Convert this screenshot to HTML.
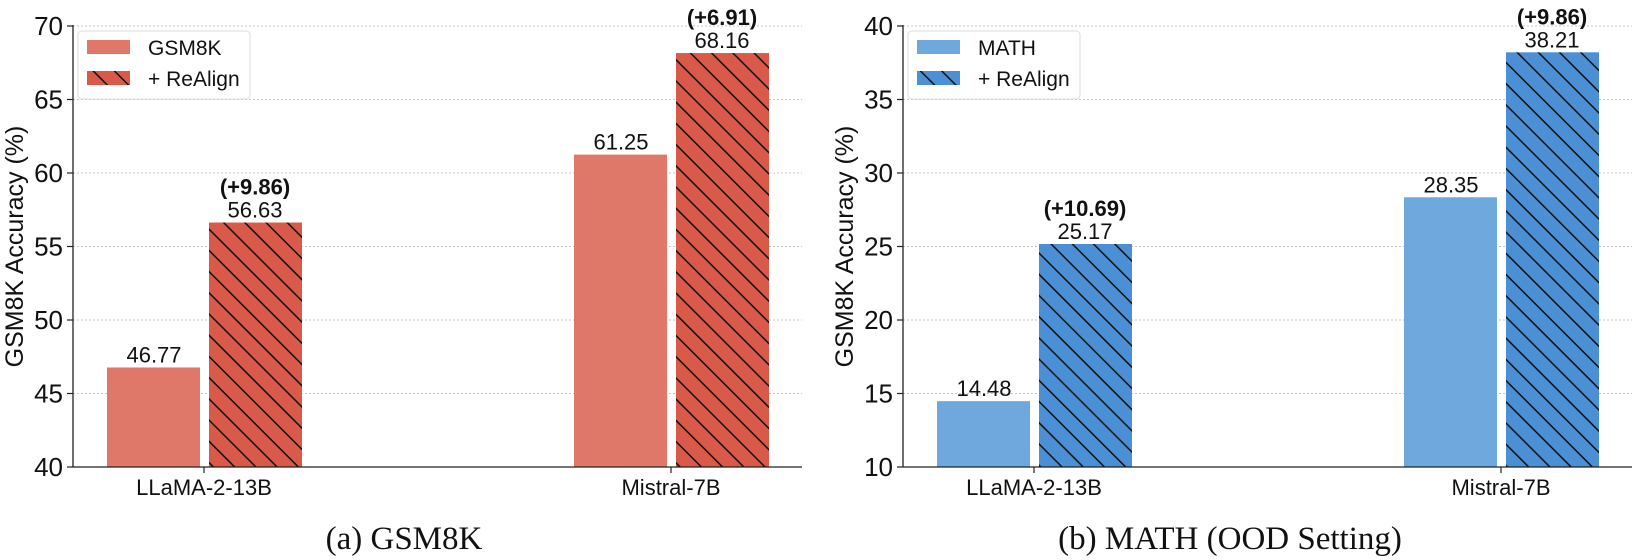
<!DOCTYPE html>
<html><head><meta charset="utf-8"><style>
html,body{margin:0;padding:0;background:#fff;}
svg{display:block;font-family:"Liberation Sans",Arial,sans-serif;}
</style></head><body>
<svg id="chart" width="1636" height="560" viewBox="0 0 1636 560" xmlns="http://www.w3.org/2000/svg">
<defs>
<pattern id="hatchR" patternUnits="userSpaceOnUse" width="15" height="15" patternTransform="rotate(-45)">
<rect width="15" height="15" fill="#d95a48"/><line x1="0" y1="0" x2="0" y2="15" stroke="#111" stroke-width="3"/></pattern>
<pattern id="hatchB" patternUnits="userSpaceOnUse" width="15" height="15" patternTransform="rotate(-45)">
<rect width="15" height="15" fill="#4b8fd4"/><line x1="0" y1="0" x2="0" y2="15" stroke="#111" stroke-width="3"/></pattern>
</defs>
</svg>
<script>
const categories = ["LLaMA-2-13B", "Mistral-7B"];
const gsmBase = [46.77, 61.25];
const gsmRealign = [56.63, 68.16];
const gsmDelta = ["(+9.86)", "(+6.91)"];
const mathBase = [14.48, 28.35];
const mathRealign = [25.17, 38.21];
const mathDelta = ["(+10.69)", "(+9.86)"];
const gsmTicks = [40, 45, 50, 55, 60, 65, 70];
const mathTicks = [10, 15, 20, 25, 30, 35, 40];

const NS = "http://www.w3.org/2000/svg";
const svg = document.getElementById("chart");
function mk(tag, attrs, parent, text) {
  const e = document.createElementNS(NS, tag);
  for (const k in attrs) e.setAttribute(k, attrs[k]);
  if (text !== undefined) e.textContent = text;
  (parent || svg).appendChild(e);
  return e;
}

function panel(opt) {
  const g = mk("g", {});
  
  
  const x0 = opt.x0, x1 = opt.x0 + 729, yTop = 26, yBot = 467;
  const lo = opt.ticks[0], hi = opt.ticks[opt.ticks.length - 1];
  const y = v => yBot - (v - lo) / (hi - lo) * (yBot - yTop);
  const cx = i => x0 + 131 + i * 467;
  opt.ticks.forEach(t => {
    if (t !== lo) {
      const gl = mk("line", {x1: x0, x2: x1, y1: y(t), y2: y(t), stroke: "#c4c4c4", "stroke-width": 1, "stroke-dasharray": "2,2"}, g);
      
      
    }
    mk("line", {x1: x0 - 6, x2: x0, y1: y(t), y2: y(t), stroke: "#222", "stroke-width": 1.2}, g);
    const tl = mk("text", {x: x0 - 10, y: y(t) + 9, "text-anchor": "end", "font-size": 26, fill: "#111"}, g, t);
    
    
  });
  categories.forEach((c, i) => {
    const c0 = cx(i);
    const b1 = mk("rect", {x: c0 - 97, y: y(opt.base[i]), width: 93, height: yBot - y(opt.base[i]), fill: opt.plain}, g);
    
    
    const b2 = mk("rect", {x: c0 + 5, y: y(opt.realign[i]), width: 93, height: yBot - y(opt.realign[i]), fill: "url(#" + opt.hatch + ")"}, g);
    
    
    const v1 = mk("text", {x: c0 - 50, y: y(opt.base[i]) - 5, "text-anchor": "middle", "font-size": 22, fill: "#111"}, g, opt.base[i].toFixed(2));
    
    
    const v2 = mk("text", {x: c0 + 51, y: y(opt.realign[i]) - 5, "text-anchor": "middle", "font-size": 22, fill: "#111"}, g, opt.realign[i].toFixed(2));
    
    
    const d = mk("text", {x: c0 + 51, y: y(opt.realign[i]) - 28, "text-anchor": "middle", "font-size": 22, "font-weight": "bold", fill: "#111"}, g, opt.delta[i]);
    
    
    mk("line", {x1: c0, x2: c0, y1: yBot, y2: yBot + 6, stroke: "#222", "stroke-width": 1.2}, g);
    const xl = mk("text", {x: c0, y: yBot + 28, "text-anchor": "middle", "font-size": 22, fill: "#111"}, g, c);
    
    
  });
  mk("line", {x1: x0, x2: x0, y1: yTop - 1, y2: yBot, stroke: "#222", "stroke-width": 1.3}, g);
  mk("line", {x1: x0, x2: x1, y1: yBot, y2: yBot, stroke: "#222", "stroke-width": 1.3}, g);
  const yl = mk("text", {x: x0 - 50, y: (yTop + yBot) / 2, "text-anchor": "middle", "font-size": 25, fill: "#111", transform: "rotate(-90 " + (x0 - 50) + " " + (yTop + yBot) / 2 + ")"}, g, "GSM8K Accuracy (%)");
  
  
  const lg = mk("g", {}, g);
  
  
  mk("rect", {x: x0 + 5, y: 31, width: 172, height: 68, rx: 4, fill: "#fff", stroke: "#ddd", "stroke-width": 1}, lg);
  mk("rect", {x: x0 + 14, y: 40, width: 43, height: 14, fill: opt.plain}, lg);
  mk("rect", {x: x0 + 14, y: 71, width: 43, height: 14, fill: "url(#" + opt.hatch + ")"}, lg);
  const l1 = mk("text", {x: x0 + 75, y: 55, "font-size": 21, fill: "#111"}, lg, opt.legend);
  
  
  const l2 = mk("text", {x: x0 + 75, y: 86, "font-size": 21, fill: "#111"}, lg, "+ ReAlign");
  
  
  const cap = mk("text", {x: opt.capX, y: 549, "text-anchor": "middle", "font-size": 33, fill: "#111", "font-family": "Liberation Serif, serif"}, g, opt.caption);
  
  
}

panel({name: "gsm8k-chart", x0: 73, ticks: gsmTicks, base: gsmBase, realign: gsmRealign, delta: gsmDelta,
  plain: "#df7868", hatch: "hatchR", legend: "GSM8K", caption: "(a) GSM8K", capX: 404});
panel({name: "math-chart", x0: 903, ticks: mathTicks, base: mathBase, realign: mathRealign, delta: mathDelta,
  plain: "#6fa8dc", hatch: "hatchB", legend: "MATH", caption: "(b) MATH (OOD Setting)", capX: 1230});
</script>
</body></html>
